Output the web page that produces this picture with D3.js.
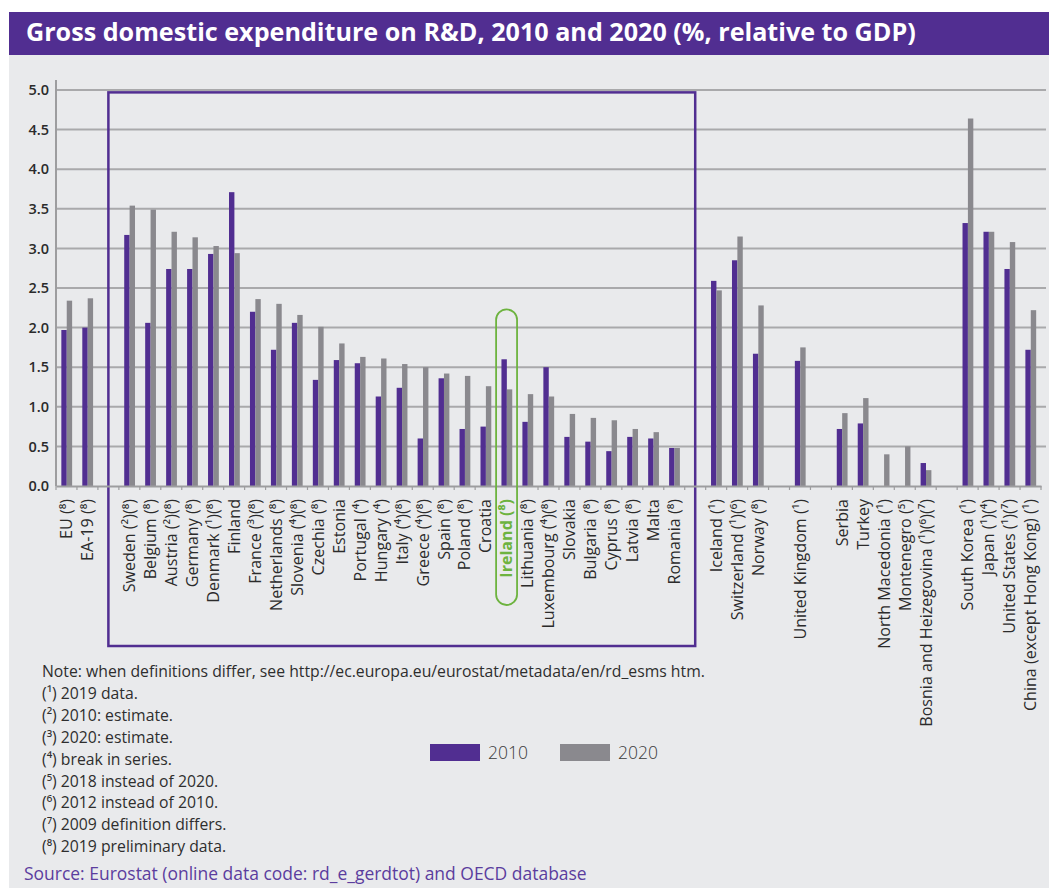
<!DOCTYPE html>
<html>
<head>
<meta charset="utf-8">
<script src="https://cdn.jsdelivr.net/npm/d3@7/dist/d3.min.js"></script>
<style>
  html, body { margin: 0; padding: 0; background: #ffffff; }
  svg { display: block; }
</style>
</head>
<body>
<svg id="chart" width="1049" height="888"></svg>
<script>
// Country labels; empty strings are spacer slots between country groups.
const categories = [
  "EU (⁸)", "EA-19 (⁸)", "",
  "Sweden (²)(⁸)", "Belgium (⁸)", "Austria (²)(⁸)", "Germany (⁸)", "Denmark (¹)(⁸)",
  "Finland", "France (³)(⁸)", "Netherlands (⁸)", "Slovenia (⁴)(⁸)", "Czechia (⁸)",
  "Estonia", "Portugal (⁴)", "Hungary (⁴)", "Italy (⁴)(⁸)", "Greece (⁴)(⁸)",
  "Spain (⁸)", "Poland (⁸)", "Croatia", "Ireland (⁸)", "Lithuania (⁸)",
  "Luxembourg (⁴)(⁸)", "Slovakia", "Bulgaria (⁸)", "Cyprus (⁸)", "Latvia (⁸)",
  "Malta", "Romania (⁸)", "",
  "Iceland (¹)", "Switzerland (¹)(⁶)", "Norway (⁸)", "",
  "United Kingdom (¹)", "",
  "Serbia", "Turkey", "North Macedonia (¹)", "Montenegro (⁵)",
  "Bosnia and Heizegovina (¹)(⁶)(⁷)", "",
  "South Korea (¹)", "Japan (¹)(⁴)", "United States (¹)(⁷)", "China (except Hong Kong) (¹)"
];

// GERD as % of GDP (null = no value / spacer)
const values2010 = [
  1.97, 2.00, null,
  3.17, 2.06, 2.74, 2.74, 2.93,
  3.71, 2.20, 1.72, 2.06, 1.34,
  1.59, 1.55, 1.13, 1.24, 0.60,
  1.36, 0.72, 0.75, 1.60, 0.81,
  1.50, 0.62, 0.56, 0.44, 0.62,
  0.60, 0.48, null,
  2.59, 2.85, 1.67, null,
  1.58, null,
  0.72, 0.79, null, null,
  0.29, null,
  3.32, 3.21, 2.74, 1.72
];
const values2020 = [
  2.34, 2.37, null,
  3.54, 3.49, 3.21, 3.14, 3.03,
  2.94, 2.36, 2.30, 2.16, 2.01,
  1.80, 1.63, 1.61, 1.54, 1.50,
  1.42, 1.39, 1.26, 1.22, 1.16,
  1.13, 0.91, 0.86, 0.83, 0.72,
  0.68, 0.48, null,
  2.47, 3.15, 2.28, null,
  1.75, null,
  0.92, 1.11, 0.40, 0.50,
  0.20, null,
  4.64, 3.21, 3.08, 2.22
];

const seriesNames = ["2010", "2020"];
const yTicks = [0, 0.5, 1, 1.5, 2, 2.5, 3, 3.5, 4, 4.5, 5];
const highlighted = "Ireland (⁸)";

const notes = [
  "Note: when definitions differ, see http://ec.europa.eu/eurostat/metadata/en/rd_esms htm.",
  "(¹) 2019 data.",
  "(²) 2010: estimate.",
  "(³) 2020: estimate.",
  "(⁴) break in series.",
  "(⁵) 2018 instead of 2020.",
  "(⁶) 2012 instead of 2010.",
  "(⁷) 2009 definition differs.",
  "(⁸) 2019 preliminary data."
];
const sourceText = "Source: Eurostat (online data code: rd_e_gerdtot) and OECD database";
const titleText = "Gross domestic expenditure on R&D, 2010 and 2020 (%, relative to GDP)";

// ---- styling ----
const PURPLE = "#512e91";
const GREY_BAR = "#8a898e";
const GREEN = "#6db33f";
const PANEL_BG = "#e9eaec";
const GRID = "#a9a9ab";
const FONT = "'Open Sans', 'DejaVu Sans', sans-serif";

const W = 1049, H = 888;
const svg = d3.select("#chart");

// panel background and title band
svg.append("rect").attr("x", 9).attr("y", 12).attr("width", W - 9).attr("height", H - 12).attr("fill", PANEL_BG);
svg.append("rect").attr("x", 9).attr("y", 12).attr("width", W - 9).attr("height", 43).attr("fill", PURPLE);

function fitWidth(sel, target) {
  const size = parseFloat(sel.attr("font-size"));
  const len = sel.node().getComputedTextLength();
  sel.attr("font-size", (size * target / len).toFixed(2));
}

const title = svg.append("text")
  .attr("x", 26).attr("y", 41)
  .attr("fill", "#ffffff")
  .attr("font-family", FONT)
  .attr("font-weight", 700)
  .attr("font-size", 21)
  .text(titleText);
fitWidth(title, 890);

// ---- scales ----
const plot = { left: 56, right: 1041, top: 90, bottom: 486 };
const x = d3.scaleBand()
  .domain(d3.range(categories.length))
  .range([plot.left, plot.right])
  .padding(0);
const bw = x.bandwidth();
const xSub = d3.scaleBand()
  .domain(seriesNames)
  .range([bw * 0.255, bw * 0.77])
  .padding(0);
const y = d3.scaleLinear().domain([0, 5]).range([plot.bottom, plot.top]);

// gridlines
svg.append("g")
  .selectAll("line")
  .data(yTicks.filter(t => t > 0))
  .join("line")
  .attr("x1", plot.left).attr("x2", 1046)
  .attr("y1", d => y(d)).attr("y2", d => y(d))
  .attr("stroke", GRID).attr("stroke-width", 2);

// y axis
const yAxis = svg.append("g")
  .attr("transform", `translate(${plot.left},0)`)
  .call(d3.axisLeft(y).tickValues(yTicks).tickFormat(d3.format(".1f")).tickSize(0).tickPadding(7));
yAxis.select(".domain").remove();
yAxis.selectAll("text")
  .attr("font-family", FONT).attr("font-size", 14.5).attr("font-weight", 600).attr("fill", "#2b2b2b");
svg.append("line")
  .attr("x1", plot.left).attr("x2", plot.left)
  .attr("y1", 80).attr("y2", plot.bottom)
  .attr("stroke", "#9d9d9f").attr("stroke-width", 2);

// EU member-state frame
const euFirst = 2, euLast = 30;
svg.append("rect")
  .attr("x", x(euFirst) + bw / 2)
  .attr("y", y(4.97))
  .attr("width", x(euLast) - x(euFirst))
  .attr("height", 646 - y(4.97))
  .attr("fill", "none")
  .attr("stroke", PURPLE)
  .attr("stroke-width", 2.5);

// bars
const rows = categories.map((c, i) => ({ i, c, v: [values2010[i], values2020[i]] }));
const barColor = d3.scaleOrdinal().domain(seriesNames).range([PURPLE, GREY_BAR]);
const groups = svg.append("g")
  .selectAll("g")
  .data(rows)
  .join("g")
  .attr("transform", d => `translate(${x(d.i)},0)`);
groups.selectAll("rect")
  .data(d => seriesNames.map((s, k) => ({ s, v: d.v[k] })).filter(e => e.v != null))
  .join("rect")
  .attr("x", e => xSub(e.s))
  .attr("width", xSub.bandwidth())
  .attr("y", e => y(e.v))
  .attr("height", e => y(0) - y(e.v))
  .attr("fill", e => barColor(e.s));
// the grey bar sits just over the purple one
groups.selectAll("rect").filter(e => e.s === "2020").raise();

// x axis with ticks at slot boundaries
const xAxis = svg.append("g")
  .attr("transform", `translate(0,${plot.bottom})`)
  .call(d3.axisBottom(x).tickSize(0).tickPadding(0).tickFormat(i => categories[i]));
xAxis.select(".domain").attr("stroke", "#9d9d9f").attr("stroke-width", 2);
const xLabels = xAxis.selectAll("text")
  .attr("font-family", FONT)
  .attr("font-size", 12.5)
  .attr("fill", "#2b2b2b")
  .attr("transform", "rotate(-90)")
  .attr("text-anchor", "end")
  .attr("x", -13)
  .attr("y", 0)
  .attr("dy", "0.36em");
// size the labels so the longest one spans the same depth as the frame allows
const longest = xLabels.filter(i => categories[i].startsWith("Bosnia"));
fitWidth(longest, 228);
xLabels.attr("font-size", longest.attr("font-size"));
xLabels.filter(i => categories[i] === highlighted)
  .attr("fill", GREEN)
  .attr("font-weight", 700);
svg.append("g")
  .selectAll("line")
  .data(d3.range(categories.length + 1))
  .join("line")
  .attr("x1", i => plot.left + i * bw).attr("x2", i => plot.left + i * bw)
  .attr("y1", plot.bottom).attr("y2", plot.bottom + 4)
  .attr("stroke", "#9d9d9f").attr("stroke-width", 1.2);

// highlight capsule around Ireland
const hi = categories.indexOf(highlighted);
svg.append("rect")
  .attr("x", x(hi))
  .attr("y", y(2.23))
  .attr("width", bw)
  .attr("height", 605 - y(2.23))
  .attr("rx", bw / 2).attr("ry", bw / 2)
  .attr("fill", "none")
  .attr("stroke", GREEN)
  .attr("stroke-width", 1.8);

// notes
const noteG = svg.append("g").attr("font-family", FONT).attr("fill", "#2e2e2e");
const noteTexts = noteG.selectAll("text")
  .data(notes)
  .join("text")
  .attr("x", 42)
  .attr("y", (d, i) => 677 + i * 21.9)
  .attr("font-size", 13.5)
  .text(d => d);
fitWidth(d3.select(noteTexts.nodes()[0]), 663);
const noteSize = d3.select(noteTexts.nodes()[0]).attr("font-size");
noteTexts.attr("font-size", noteSize);

const src = svg.append("text")
  .attr("x", 24).attr("y", 880)
  .attr("font-family", FONT)
  .attr("font-size", 15)
  .attr("fill", "#5b3d9e")
  .text(sourceText);
fitWidth(src, 563);

// legend
const legend = svg.append("g").attr("font-family", FONT);
const legendItems = legend.selectAll("g")
  .data(seriesNames)
  .join("g")
  .attr("transform", (d, i) => `translate(${430 + i * 130},744)`);
legendItems.append("rect")
  .attr("width", 50).attr("height", 17)
  .attr("fill", d => barColor(d));
legendItems.append("text")
  .attr("x", 58).attr("y", 15)
  .attr("font-size", 17.5)
  .attr("font-weight", 300)
  .attr("fill", "#3a3a3a")
  .text(d => d);
</script>
</body>
</html>
